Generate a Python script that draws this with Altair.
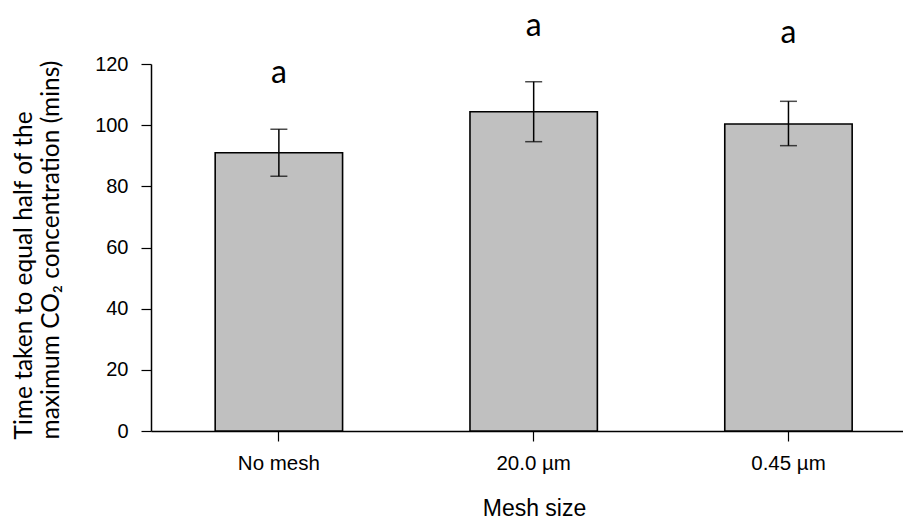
import altair as alt
import pandas as pd

categories = ["No mesh", "20.0 µm", "0.45 µm"]
means = [91.0, 104.4, 100.4]
err_low = [83.3, 94.6, 93.3]
err_high = [98.7, 114.2, 107.8]
letters = ["a", "a", "a"]
letter_height = [117.1, 132.4, 130.1]

df = pd.DataFrame({
    "cat": categories,
    "mean": means,
    "lo": err_low,
    "hi": err_high,
    "letter": letters,
    "ly": letter_height,
})

xscale = alt.Scale(domain=categories, paddingInner=0.5, paddingOuter=0.2257, align=0.558)
yscale = alt.Scale(domain=[0, 120], nice=False, zero=True)

x = alt.X(
    "cat:N",
    scale=xscale,
    sort=categories,
    axis=alt.Axis(
        title="Mesh size",
        labelAngle=0,
        tickSize=10,
        labelPadding=12,
        labelFont="Liberation Sans",
        labelFontSize=20.5,
        labelColor="black",
        titleFont="Liberation Sans",
        titleFontSize=23,
        titleFontWeight="normal",
        titleColor="black",
        titleX=383,
        titleY=77,
        titleBaseline="middle",
        titleAlign="center",
        domainColor="black",
        tickColor="black",
        domainWidth=1.5,
        tickWidth=1.2,
        grid=False,
    ),
)

y = alt.Y(
    "mean:Q",
    scale=yscale,
    axis=alt.Axis(
        title=["Time taken to equal half of the", "maximum CO₂ concentration (mins)"],
        values=[0, 20, 40, 60, 80, 100, 120],
        tickSize=10,
        labelPadding=13,
        labelFont="Liberation Sans",
        labelFontSize=20,
        labelColor="black",
        titleFont="Lato",
        titleFontSize=24.5,
        titleFontWeight="normal",
        titleColor="black",
        titleAngle=-90,
        titleAlign="left",
        titleBaseline="alphabetic",
        titleLineHeight=27,
        titleX=-120,
        titleY=375,
        domainColor="black",
        tickColor="black",
        domainWidth=1.5,
        tickWidth=1.2,
        grid=False,
    ),
)

bars = alt.Chart(df).mark_bar(
    fill="#c0c0c0", stroke="black", strokeWidth=1.6
).encode(x=x, y=y)

rules = alt.Chart(df).mark_rule(color="black", strokeWidth=1.5).encode(
    x=alt.X("cat:N", scale=xscale, sort=categories),
    y=alt.Y("lo:Q", scale=yscale),
    y2="hi:Q",
)

caps_hi = alt.Chart(df).mark_tick(color="black", size=17, thickness=1.5, orient="horizontal").encode(
    x=alt.X("cat:N", scale=xscale, sort=categories),
    y=alt.Y("hi:Q", scale=yscale),
)
caps_lo = alt.Chart(df).mark_tick(color="black", size=17, thickness=1.5, orient="horizontal").encode(
    x=alt.X("cat:N", scale=xscale, sort=categories),
    y=alt.Y("lo:Q", scale=yscale),
)

text = alt.Chart(df).mark_text(
    font="Lato", fontSize=32, color="black", baseline="middle", align="center"
).encode(
    x=alt.X("cat:N", scale=xscale, sort=categories),
    y=alt.Y("ly:Q", scale=yscale),
    text="letter:N",
)

chart = alt.layer(bars, rules, caps_hi, caps_lo, text).properties(
    width=752,
    height=367,
    autosize=alt.AutoSizeParams(type="none"),
    padding={"left": 151, "top": 64, "right": 0, "bottom": 89},
    background="white",
).configure_view(strokeWidth=0)

chart.save("out.html", embed_options={"renderer": "svg", "actions": False})
